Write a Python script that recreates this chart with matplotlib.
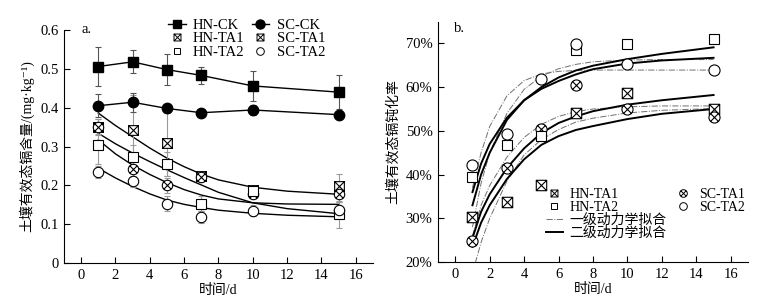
import matplotlib
matplotlib.use("Agg")
import matplotlib.pyplot as plt
from matplotlib.lines import Line2D
from matplotlib.path import Path
from matplotlib.ticker import PercentFormatter

plt.rcParams["font.family"] = ["Liberation Serif", "Noto Sans CJK SC", "DejaVu Serif"]
plt.rcParams["axes.unicode_minus"] = False

days = [1, 3, 5, 7, 10, 15]

# panel a: available Cd content (mg/kg)
hn_ck = [0.506, 0.518, 0.498, 0.483, 0.456, 0.440]
hn_ck_err = [0.050, 0.030, 0.040, 0.023, 0.038, 0.043]
sc_ck = [0.405, 0.414, 0.398, 0.387, 0.394, 0.382]
sc_ck_err = [0.030, 0.025, 0.012, 0.006, 0.012, 0.010]
hn_ta1 = [0.351, 0.343, 0.310, 0.223, 0.187, 0.199]
hn_ta1_err = [0.020, 0.090, 0.085, 0.008, 0.012, 0.030]
sc_ta1 = [0.350, 0.242, 0.200, 0.222, 0.178, 0.178]
sc_ta1_err = [0.020, 0.020, 0.020, 0.008, 0.010, 0.020]
hn_ta2 = [0.305, 0.274, 0.255, 0.153, 0.185, 0.125]
hn_ta2_err = [0.050, 0.030, 0.030, 0.020, 0.010, 0.035]
sc_ta2 = [0.234, 0.210, 0.153, 0.118, 0.135, 0.137]
sc_ta2_err = [0.015, 0.015, 0.020, 0.015, 0.015, 0.020]

# fitted decay curves
fit_days_a = [1, 2, 3, 4, 5, 6, 7, 8, 10, 12, 15]
fit_a1 = [0.386, 0.354, 0.325, 0.296, 0.270, 0.248, 0.229, 0.214, 0.195, 0.185, 0.177]
fit_a2 = [0.334, 0.307, 0.283, 0.261, 0.240, 0.220, 0.201, 0.182, 0.155, 0.140, 0.127]
fit_a3 = [0.317, 0.281, 0.252, 0.228, 0.207, 0.189, 0.175, 0.165, 0.155, 0.152, 0.151]
fit_a4 = [0.244, 0.219, 0.197, 0.178, 0.162, 0.151, 0.143, 0.136, 0.128, 0.123, 0.119]

# panel b: passivation rate (%)
hn_ta1_r = [30.3, 33.7, 37.7, 54.0, 58.7, 55.1]
sc_ta1_r = [24.8, 41.5, 50.4, 60.6, 55.1, 53.1]
hn_ta2_r = [39.5, 46.7, 48.8, 68.5, 69.8, 71.1]
sc_ta2_r = [42.1, 49.2, 61.8, 69.8, 65.4, 63.9]

fit_days_b = [1, 1.5, 2, 3, 4, 5, 6, 7, 8, 10, 12, 15]
first_order = [
    [37.0, 45.0, 51.0, 58.0, 61.5, 63.0, 63.6, 63.8, 63.9, 63.9, 63.9, 63.9],
    [28.0, 38.0, 45.0, 54.0, 59.5, 62.5, 64.2, 65.2, 65.8, 66.2, 66.3, 66.3],
    [26.0, 33.0, 37.5, 44.0, 48.5, 51.5, 53.3, 54.4, 55.0, 55.5, 55.7, 55.7],
    [17.5, 24.5, 30.0, 38.5, 44.5, 48.0, 50.3, 52.0, 52.9, 54.1, 54.7, 55.1],
]
second_order = [
    [33.0, 40.0, 45.0, 52.5, 57.0, 60.0, 62.2, 63.8, 64.9, 66.4, 67.6, 69.1],
    [36.0, 42.5, 47.0, 53.0, 57.0, 59.6, 61.4, 62.9, 64.1, 65.4, 66.1, 66.7],
    [25.5, 31.5, 35.5, 41.5, 46.0, 49.5, 51.8, 53.3, 54.5, 56.0, 57.0, 58.2],
    [23.5, 29.0, 33.0, 39.0, 43.5, 46.8, 48.8, 50.2, 51.1, 52.7, 53.9, 55.0],
]

# crossed square / crossed circle markers
diag = Path([(-0.7, -0.7), (0.7, 0.7), (-0.7, 0.7), (0.7, -0.7)],
            [Path.MOVETO, Path.LINETO, Path.MOVETO, Path.LINETO])
sq = Path([(-1, -1), (1, -1), (1, 1), (-1, 1), (-1, -1)],
          [Path.MOVETO, Path.LINETO, Path.LINETO, Path.LINETO, Path.CLOSEPOLY])
sq_diag = Path([(-1, -1), (1, 1), (-1, 1), (1, -1)],
               [Path.MOVETO, Path.LINETO, Path.MOVETO, Path.LINETO])
CROSS_SQ = Path.make_compound_path(sq, sq_diag)
CROSS_CI = Path.make_compound_path(Path.unit_circle(), diag)

ERR_GRAY = "#9a9a9a"
FIT_GRAY = "#707070"

fig = plt.figure(figsize=(7.69, 3.03), dpi=100)
ax1 = fig.add_axes([0.0832, 0.132, 0.4018, 0.769])
ax2 = fig.add_axes([0.5696, 0.135, 0.4031, 0.794])

# ---- panel a ----
eb_kw = dict(capsize=2.5, elinewidth=0.8, capthick=0.8)
ax1.errorbar(days, hn_ck, yerr=hn_ck_err, color="black", ecolor="#555555", marker="s",
             ms=7, lw=1, **eb_kw, zorder=4)
ax1.errorbar(days, sc_ck, yerr=sc_ck_err, color="black", ecolor="#555555", marker="o",
             ms=7.5, lw=1, **eb_kw, zorder=4)
for vals, errs, mk, ms in [(hn_ta1, hn_ta1_err, CROSS_SQ, 7), (sc_ta1, sc_ta1_err, CROSS_CI, 7.5),
                           (hn_ta2, hn_ta2_err, "s", 7), (sc_ta2, sc_ta2_err, "o", 7.5)]:
    ax1.errorbar(days, vals, yerr=errs, ls="none", marker=mk, ms=ms, mfc="white",
                 mec="black", mew=0.8, ecolor=ERR_GRAY, **eb_kw, zorder=3)
for fit in [fit_a1, fit_a2, fit_a3, fit_a4]:
    ax1.plot(fit_days_a, fit, color="black", lw=1, zorder=2)

ax1.set_xlim(-1, 17)
ax1.set_ylim(0, 0.6)
ax1.set_xticks(range(0, 17, 2))
ax1.set_yticks([0, 0.1, 0.2, 0.3, 0.4, 0.5, 0.6])
ax1.set_yticklabels(["0", "0.1", "0.2", "0.3", "0.4", "0.5", "0.6"])
ax1.set_xlabel("时间/d", fontsize=10, labelpad=2)
ax1.set_ylabel("土壤有效态镉含量/(mg·kg⁻¹)", fontsize=10, labelpad=4)
ax1.text(0.058, 1.0, "a.", transform=ax1.transAxes, fontsize=10.5, va="center")

leg_a = [
    Line2D([], [], color="black", marker="s", ms=6, lw=1),
    Line2D([], [], ls="none", marker=CROSS_SQ, ms=5, mfc="white", mec="black", mew=0.7),
    Line2D([], [], ls="none", marker="s", ms=5, mfc="white", mec="black", mew=0.7),
    Line2D([], [], color="black", marker="o", ms=6.5, lw=1),
    Line2D([], [], ls="none", marker=CROSS_SQ, ms=5, mfc="white", mec="black", mew=0.7),
    Line2D([], [], ls="none", marker="o", ms=5.5, mfc="white", mec="black", mew=0.7),
]
fig.legend(leg_a, ["HN-CK", "HN-TA1", "HN-TA2", "SC-CK", "SC-TA1", "SC-TA2"],
           ncol=2, loc="upper left", bbox_to_anchor=(168 / 769, 1 - 19 / 303),
           frameon=False, fontsize=10.5, handlelength=1.2, handletextpad=0.5,
           columnspacing=0.5, labelspacing=0.0, borderpad=0, borderaxespad=0)

# ---- panel b ----
for curve in first_order:
    ax2.plot(fit_days_b, curve, color=FIT_GRAY, lw=0.7, ls="-.", zorder=2)
for curve in second_order:
    ax2.plot(fit_days_b, curve, color="black", lw=1.4, zorder=2)
ax2.plot(days, hn_ta1_r, ls="none", marker=CROSS_SQ, ms=7.5, mfc="white", mec="black", mew=0.8, zorder=3)
ax2.plot(days, sc_ta1_r, ls="none", marker=CROSS_CI, ms=8, mfc="white", mec="black", mew=0.8, zorder=3)
ax2.plot(days, hn_ta2_r, ls="none", marker="s", ms=7.5, mfc="white", mec="black", mew=0.8, zorder=3)
ax2.plot(days, sc_ta2_r, ls="none", marker="o", ms=8, mfc="white", mec="black", mew=0.8, zorder=3)

ax2.set_xlim(-1, 17)
ax2.set_ylim(20, 75)
ax2.set_xticks(range(0, 17, 2))
ax2.set_yticks([20, 30, 40, 50, 60, 70])
ax2.yaxis.set_major_formatter(PercentFormatter(decimals=0))
ax2.set_xlabel("时间/d", fontsize=10, labelpad=2)
ax2.set_ylabel("土壤有效态镉钝化率", fontsize=10, labelpad=4)
ax2.text(0.05, 0.969, "b.", transform=ax2.transAxes, fontsize=10.5, va="center")

blank = Line2D([], [], ls="none")
leg_b = [
    Line2D([], [], ls="none", marker=CROSS_SQ, ms=5, mfc="white", mec="black", mew=0.7),
    Line2D([], [], ls="none", marker="s", ms=5, mfc="white", mec="black", mew=0.7),
    Line2D([], [], color=FIT_GRAY, lw=0.7, ls="-."),
    Line2D([], [], color="black", lw=1.4),
    Line2D([], [], ls="none", marker=CROSS_CI, ms=5.5, mfc="white", mec="black", mew=0.7),
    Line2D([], [], ls="none", marker="o", ms=5.5, mfc="white", mec="black", mew=0.7),
    blank, blank,
]
fig.legend(leg_b, ["HN-TA1", "HN-TA2", "一级动力学拟合", "二级动力学拟合", "SC-TA1", "SC-TA2", "", ""],
           ncol=2, loc="upper left", bbox_to_anchor=(546 / 769, 1 - 188 / 303),
           frameon=False, fontsize=10, handlelength=1.2, handletextpad=0.5,
           columnspacing=0.6, labelspacing=0.0, borderpad=0, borderaxespad=0)

for ax in (ax1, ax2):
    ax.spines["top"].set_visible(False)
    ax.spines["right"].set_visible(False)
    ax.tick_params(direction="in", length=4, width=0.8, labelsize=10.5, pad=4)

fig.savefig("out.png", dpi=100)
